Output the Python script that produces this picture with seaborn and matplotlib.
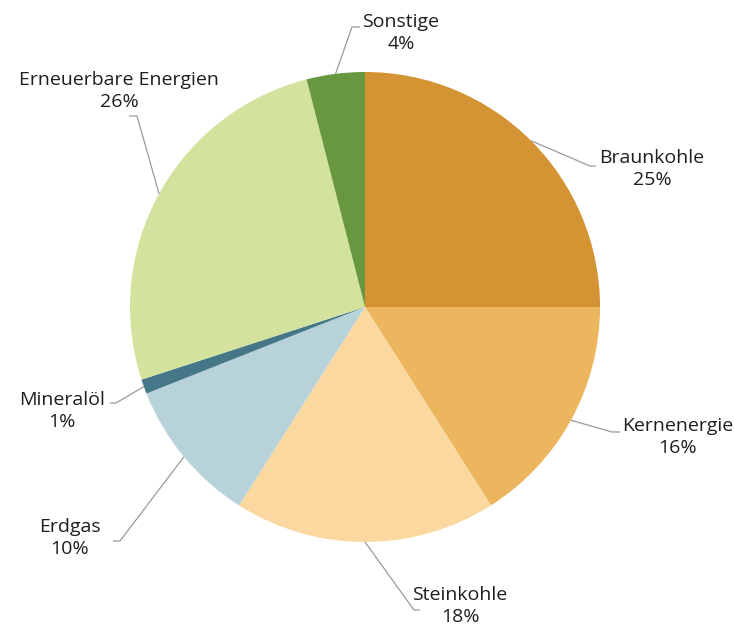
import numpy as np
import matplotlib
matplotlib.use("Agg")
import matplotlib.pyplot as plt
import seaborn as sns

# Strommix, Anteile in Prozent (im Uhrzeigersinn ab 12 Uhr)
sources = ["Braunkohle", "Kernenergie", "Steinkohle", "Erdgas",
           "Mineralöl", "Erneuerbare Energien", "Sonstige"]
shares = [25, 16, 18, 10, 1, 26, 4]
colors = ["#D49433", "#ECB65E", "#FBD8A0", "#B8D2DA",
          "#467788", "#D3E29C", "#67983F"]

W, H = 734, 628
CX, CY, R = 365, 307, 235

# Beschriftung: Textmitte, Knickpunkt und Ende der Führungslinie (Pixel)
label_pos = [(652, 169), (678, 437), (460, 606), (70, 538),
             (62, 411), (119, 91), (401, 33)]
elbows = [(590, 166), (612, 432), (414, 610), (120, 541),
          (116, 403), (137, 116), (352, 27)]
ends = [596, 620, 420, 113, 110, 129, 360]


def px(x, y):
    return (x - CX) / R, (CY - y) / R


sns.set_theme(style="white")
plt.rcParams["font.family"] = ["Open Sans", "DejaVu Sans"]

fig = plt.figure(figsize=(W / 100, H / 100), dpi=100)
ax = fig.add_axes([0, 0, 1, 1])

wedges, _ = ax.pie(shares, colors=colors, startangle=90, counterclock=False,
                   radius=1, wedgeprops=dict(linewidth=0))

for w, name, val, lp, el, ex in zip(wedges, sources, shares, label_pos, elbows, ends):
    mid = np.deg2rad((w.theta1 + w.theta2) / 2)
    ax0, ay0 = np.cos(mid), np.sin(mid)
    e1 = px(*el)
    e2 = px(ex, el[1])
    ax.plot([ax0, e1[0], e2[0]], [ay0, e1[1], e2[1]],
            color="#9a9a9a", lw=0.9, solid_capstyle="butt")
    tx, ty = px(*lp)
    ax.text(tx, ty, f"{name}\n{val}%", ha="center", va="center",
            fontsize=14, color="#1e1e1e", linespacing=1.3)

ax.set_xlim(-CX / R, (W - CX) / R)
ax.set_ylim(-(H - CY) / R, CY / R)
ax.set_aspect("equal")
ax.axis("off")

fig.savefig("out.png", dpi=100)
